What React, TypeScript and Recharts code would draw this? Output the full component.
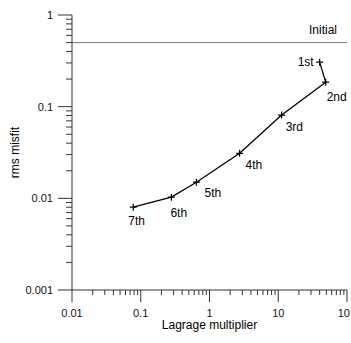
import React from 'react';
import { LineChart, Line, XAxis, YAxis, ReferenceLine, LabelList } from 'recharts';

const iterations = ['1st', '2nd', '3rd', '4th', '5th', '6th', '7th'];
const lagrange = [40, 49, 11.2, 2.74, 0.646, 0.279, 0.0777];
const misfit = [0.306, 0.185, 0.081, 0.031, 0.015, 0.0103, 0.008];
const initialMisfit = 0.5;
const initialLabel = 'Initial';

const xMajorTicks = [0.01, 0.1, 1, 10, 100];
// the last label is shown truncated to "10" at the picture's right edge, as in the reference
const xTickLabels = ['0.01', '0.1', '1', '10', '10'];
const xMinorTicks = [
  0.02, 0.03, 0.04, 0.05, 0.06, 0.07, 0.08, 0.09,
  0.2, 0.3, 0.4, 0.5, 0.6, 0.7, 0.8, 0.9,
  2, 3, 4, 5, 6, 7, 8, 9,
  20, 30, 40, 50, 60, 70, 80, 90,
];
const yMajorTicks = [0.001, 0.01, 0.1, 1];
const yTickLabels = ['0.001', '0.01', '0.1', '1'];
const yMinorTicks = [
  0.002, 0.003, 0.004, 0.005, 0.006, 0.007, 0.008, 0.009,
  0.02, 0.03, 0.04, 0.05, 0.06, 0.07, 0.08, 0.09,
  0.2, 0.3, 0.4, 0.5, 0.6, 0.7, 0.8, 0.9,
];

const data = iterations.map((name, i) => ({ name, x: lagrange[i], y: misfit[i] }));

// label placement style (offsets relative to each point)
const labelStyle = [
  { anchor: 'end', dx: -6, dy: 4 },
  { anchor: 'start', dx: 1, dy: 19 },
  { anchor: 'start', dx: 4, dy: 16 },
  { anchor: 'start', dx: 6, dy: 16 },
  { anchor: 'start', dx: 8, dy: 15 },
  { anchor: 'start', dx: -1, dy: 20 },
  { anchor: 'start', dx: -5, dy: 18 },
];

const FONT = '"Liberation Sans", Arial, sans-serif';
const AXIS = '#333';

const XTick = (props: any) => {
  const { x, y, payload } = props;
  const v = payload.value;
  const mi = xMajorTicks.findIndex((t) => Math.abs(t - v) / t < 1e-6);
  const major = mi >= 0;
  const last = mi === xMajorTicks.length - 1;
  return (
    <g>
      <line x1={x} x2={x} y1={y} y2={y + (major ? 12 : 5)} stroke={AXIS} strokeWidth={1} />
      {major && (
        <text
          x={last ? x + 3 : x}
          y={y + 27}
          textAnchor={last ? 'end' : 'middle'}
          fontSize={11}
          fontFamily={FONT}
          fill="#111"
        >
          {xTickLabels[mi]}
        </text>
      )}
    </g>
  );
};

const YTick = (props: any) => {
  const { x, y, payload } = props;
  const v = payload.value;
  const mi = yMajorTicks.findIndex((t) => Math.abs(t - v) / t < 1e-6);
  const major = mi >= 0;
  return (
    <g>
      <line x1={x - (major ? 14 : 6)} x2={x} y1={y} y2={y} stroke={AXIS} strokeWidth={1} />
      {major && (
        <text x={x - 19} y={y + 4} textAnchor="end" fontSize={11} fontFamily={FONT} fill="#111">
          {yTickLabels[mi]}
        </text>
      )}
    </g>
  );
};

const CrossDot = (props: any) => {
  const { cx, cy, index } = props;
  if (cx == null || cy == null) return null;
  return (
    <path
      key={`dot-${index}`}
      d={`M${cx - 3.5},${cy}H${cx + 3.5}M${cx},${cy - 3.5}V${cy + 3.5}`}
      stroke="#000"
      strokeWidth={1.2}
      fill="none"
    />
  );
};

const PointLabel = (props: any) => {
  const { x, y, index, value } = props;
  const s = labelStyle[index] || { anchor: 'start', dx: 4, dy: 16 };
  return (
    <text
      x={x + s.dx}
      y={y + s.dy}
      textAnchor={s.anchor}
      fontSize={12}
      fontFamily={FONT}
      fill="#000"
    >
      {value}
    </text>
  );
};

export default function App() {
  return (
    <div style={{ position: 'absolute', left: 0, top: 0, width: 351, height: 343, background: '#fff' }}>
      <LineChart
        width={351}
        height={343}
        data={data}
        margin={{ top: 15, right: 4, left: 0, bottom: 0 }}
      >
        <XAxis
          dataKey="x"
          type="number"
          scale="log"
          domain={[0.01, 100]}
          allowDataOverflow
          ticks={[...xMajorTicks, ...xMinorTicks].sort((a, b) => a - b)}
          interval={0}
          tickSize={0}
          tickMargin={0}
          tick={<XTick />}
          tickLine={false}
          axisLine={{ stroke: AXIS, strokeWidth: 1 }}
          height={53}
          label={{
            content: (p: any) => {
              const vb = p.viewBox;
              return (
                <text
                  x={vb.x + vb.width / 2}
                  y={vb.y + 39}
                  textAnchor="middle"
                  fontSize={12}
                  fontFamily={FONT}
                  fill="#000"
                >
                  Lagrage multiplier
                </text>
              );
            },
          }}
        />
        <YAxis
          dataKey="y"
          type="number"
          scale="log"
          domain={[0.001, 1]}
          allowDataOverflow
          ticks={[...yMajorTicks, ...yMinorTicks].sort((a, b) => a - b)}
          interval={0}
          tickSize={0}
          tickMargin={0}
          tick={<YTick />}
          tickLine={false}
          axisLine={{ stroke: AXIS, strokeWidth: 1 }}
          width={72}
          label={{
            content: (p: any) => {
              const vb = p.viewBox;
              const cx = vb.x + 15;
              const cy = vb.y + vb.height / 2;
              return (
                <text
                  x={cx}
                  y={cy}
                  transform={`rotate(-90 ${cx} ${cy})`}
                  textAnchor="middle"
                  dominantBaseline="central"
                  fontSize={12}
                  fontFamily={FONT}
                  fill="#000"
                >
                  rms misfit
                </text>
              );
            },
          }}
        />
        <ReferenceLine
          y={initialMisfit}
          stroke="#777"
          strokeWidth={1}
          label={{
            content: (p: any) => {
              const vb = p.viewBox;
              return (
                <text
                  x={vb.x + vb.width - 10}
                  y={vb.y - 9}
                  textAnchor="end"
                  fontSize={12}
                  fontFamily={FONT}
                  fill="#000"
                >
                  {initialLabel}
                </text>
              );
            },
          }}
        />
        <Line
          dataKey="y"
          stroke="#000"
          strokeWidth={1.3}
          dot={<CrossDot />}
          activeDot={false}
          isAnimationActive={false}
        >
          <LabelList dataKey="name" content={<PointLabel />} />
        </Line>
      </LineChart>
    </div>
  );
}
